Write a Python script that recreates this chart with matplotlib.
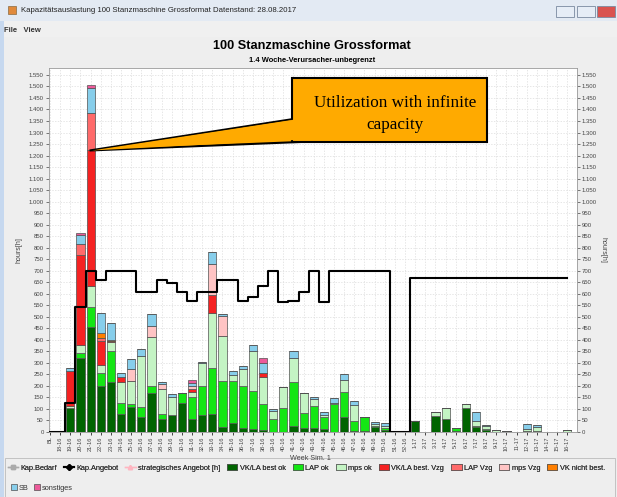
import matplotlib
matplotlib.use("Agg")
import matplotlib.pyplot as plt
import numpy as np
from matplotlib.patches import Rectangle, Polygon, Patch
from matplotlib.lines import Line2D
from matplotlib.ticker import FuncFormatter, MultipleLocator

plt.rcParams['font.family'] = ['Liberation Sans', 'DejaVu Sans']

# categories
weeks = ['BL'] + [f'{w}-16' for w in range(18, 53)] + [f'{w}-17' for w in range(1, 17)]

# stacked series (hours)
vkla_ok = [0, 0, 103, 320, 454, 201, 218, 77, 107, 66, 171, 56, 74, 125, 56, 74, 78, 23, 40, 19,
           12, 9, 2, 2, 26, 19, 19, 14, 2, 67, 5, 5, 22, 8, 0, 0,
           46, 0, 70, 55, 3, 103, 21, 7, 0, 4, 0, 5, 6, 0, 0, 0]
lap_ok = [0, 0, 0, 24, 87, 54, 134, 48, 15, 41, 30, 22, 0, 43, 95, 127, 199, 198, 181, 182,
          166, 113, 54, 104, 192, 62, 95, 50, 120, 108, 43, 61, 5, 10, 0, 0,
          0, 0, 0, 0, 13, 0, 5, 5, 0, 0, 0, 0, 0, 0, 0, 0]
mps_ok = [0, 0, 11, 34, 94, 36, 37, 93, 101, 223, 210, 109, 79, 0, 24, 100, 241, 197, 26, 71,
          175, 118, 37, 88, 105, 87, 29, 10, 5, 51, 69, 0, 8, 8, 0, 0,
          0, 0, 15, 48, 0, 17, 22, 14, 7, 0, 0, 8, 15, 0, 0, 7]
vkla_vzg = [0, 0, 152, 390, 587, 104, 0, 22, 0, 0, 0, 0, 0, 0, 12, 0, 77, 0, 0, 0,
            0, 15, 0, 0, 0, 0, 0, 0, 0, 0, 0, 0, 0, 0, 0, 0,
            0, 0, 0, 0, 0, 0, 0, 0, 0, 0, 0, 0, 0, 0, 0, 0]
lap_vzg = [0, 0, 0, 50, 162, 15, 4, 0, 0, 0, 0, 0, 0, 0, 0, 0, 0, 0, 0, 0,
           0, 0, 0, 0, 0, 0, 0, 0, 0, 0, 0, 0, 0, 0, 0, 0,
           0, 0, 0, 0, 0, 0, 0, 0, 0, 0, 0, 0, 0, 0, 0, 0]
mps_vzg = [0, 0, 0, 0, 0, 0, 0, 0, 49, 0, 49, 21, 0, 0, 13, 0, 135, 86, 0, 0,
           0, 0, 0, 0, 0, 0, 0, 0, 0, 0, 0, 0, 0, 0, 0, 0,
           0, 0, 0, 0, 0, 0, 0, 0, 0, 0, 0, 0, 0, 0, 0, 0]
vk_nicht = [0, 0, 0, 0, 0, 18, 6, 0, 0, 0, 0, 0, 0, 0, 0, 0, 0, 0, 0, 0,
            0, 0, 0, 0, 0, 0, 0, 0, 0, 0, 0, 0, 0, 0, 0, 0,
            0, 0, 0, 0, 0, 0, 0, 0, 0, 0, 0, 0, 0, 0, 0, 0]
sb = [0, 0, 13, 35, 108, 87, 76, 15, 44, 29, 52, 8, 11, 0, 14, 4, 53, 8, 18, 15,
      25, 46, 5, 0, 29, 0, 10, 14, 19, 24, 18, 0, 10, 12, 0, 0,
      0, 0, 0, 0, 0, 0, 37, 4, 0, 0, 0, 20, 8, 0, 0, 0]
sonstiges = [0, 0, 0, 10, 13, 0, 0, 0, 0, 0, 0, 0, 0, 0, 12, 0, 0, 0, 0, 0,
             0, 22, 0, 0, 0, 0, 0, 0, 0, 0, 0, 0, 0, 0, 0, 0,
             0, 0, 0, 0, 0, 0, 0, 0, 0, 0, 0, 0, 0, 0, 0, 0]

# capacity line
kap_angebot = [0, 0, 126, 544, 699, 660, 700, 700, 700, 609, 609, 660, 645, 609, 569, 609, 609,
               660, 660, 569, 587, 634, 700, 563, 569, 609, 700, 563, 700, 700, 700, 700, 700,
               700, 0, 0] + [667] * 16

series = [
    ('VK/LA best ok', vkla_ok, '#006400'),
    ('LAP ok', lap_ok, '#14e614'),
    ('mps ok', mps_ok, '#c4f4c4'),
    ('VK/LA best. Vzg', vkla_vzg, '#f52222'),
    ('LAP Vzg', lap_vzg, '#ff6a6a'),
    ('mps Vzg', mps_vzg, '#ffc4c4'),
    ('VK nicht best.', vk_nicht, '#ff7f00'),
    ('SB', sb, '#87ceeb'),
    ('sonstiges', sonstiges, '#ec5a9a'),
]

fig = plt.figure(figsize=(6.17, 4.97), dpi=100)
fig.patch.set_facecolor('#eeeeee')
W, H = 617, 497


def fx(px):
    return px / W


def fy(py):
    return 1 - py / H


# window chrome
fig.add_artist(Rectangle((0, fy(21)), 1, 21 / H, transform=fig.transFigure,
                         facecolor='#e3eaf3', edgecolor='none'))
fig.add_artist(Rectangle((0, fy(37)), 1, 16 / H, transform=fig.transFigure,
                         facecolor='#f0f0f0', edgecolor='none'))
fig.add_artist(Rectangle((0, 0), fx(4), fy(21), transform=fig.transFigure,
                         facecolor='#c6d8ef', edgecolor='none'))
fig.add_artist(Rectangle((fx(8), fy(14)), fx(8), 8 / H, transform=fig.transFigure,
                         facecolor='#e08a3c', edgecolor='#8a6a40', lw=0.5))
fig.text(fx(21), fy(10), 'Kapazitätsauslastung 100 Stanzmaschine Grossformat Datenstand: 28.08.2017',
         fontsize=5.6, va='center', ha='left', color='#222222')
for bx, col in [(556, '#e6edf6'), (577, '#e6edf6'), (597, '#d9534f')]:
    fig.add_artist(Rectangle((fx(bx), fy(17)), fx(18), 11 / H, transform=fig.transFigure,
                             facecolor=col, edgecolor='#7a8aa0', lw=0.6))
fig.text(fx(4), fy(30), 'File   View', fontsize=5.5, fontweight='bold', va='center', ha='left',
         color='#333333')

fig.text(fx(312), fy(46), '100 Stanzmaschine Grossformat', fontsize=9.2, fontweight='bold',
         ha='center', va='center')
fig.text(fx(312), fy(60), '1.4 Woche-Verursacher-unbegrenzt', fontsize=5.4, fontweight='bold',
         ha='center', va='center')

ax = fig.add_axes([fx(48.5), 1 - 432 / H, fx(528.5), 364 / H])
ax.set_facecolor('white')
x = np.arange(len(weeks))
bottom = np.zeros(len(weeks))
for name, vals, col in series:
    vals = np.array(vals, dtype=float)
    ax.bar(x, vals, 0.8, bottom=bottom, color=col, edgecolor='#505050', linewidth=0.5, zorder=3)
    bottom += vals

ax.plot(x, kap_angebot, color='black', lw=1.5, drawstyle='steps-mid', zorder=4)

ax.set_xlim(-0.15, 51.95)
ax.set_ylim(0, 1580)
ax.yaxis.set_major_locator(MultipleLocator(50))
ax.yaxis.set_major_formatter(FuncFormatter(lambda v, p: f'{int(v):,}'.replace(',', '.')))
ax.set_xticks(x)
ax.set_xticklabels(weeks, rotation=90, fontsize=4.1, color='#444444')
ax.tick_params(axis='y', labelsize=4.3, colors='#444444', length=2, width=0.5,
               right=True, labelright=True, pad=1.5)
ax.tick_params(axis='x', length=2, width=0.5, pad=1.2)
ax.grid(True, color='#dcdcdc', lw=0.5, ls=(0, (2, 2)), zorder=0)
for s in ax.spines.values():
    s.set_color('#999999')
    s.set_linewidth(0.6)

fig.text(fx(19), fy(250), 'hours[h]', rotation=90, fontsize=5, ha='center', va='center',
         color='#444444')
fig.text(fx(603), fy(250), 'hours[h]', rotation=270, fontsize=5, ha='center', va='center',
         color='#444444')
fig.text(fx(310), fy(458.5), 'Week Sim. 1', fontsize=5.2, ha='center', va='center', color='#444444')

# callout
tip = ax.transData.transform((3.9, 1222))
tip_f = fig.transFigure.inverted().transform(tip)
wedge = Polygon([tip_f, (fx(300), fy(118)), (fx(300), fy(142))], closed=True,
                transform=fig.transFigure, facecolor='#ffaa00', edgecolor='black', lw=1.5,
                zorder=10)
fig.add_artist(wedge)
box = Rectangle((fx(292), fy(142)), fx(195), 64 / H, transform=fig.transFigure,
                facecolor='#ffaa00', edgecolor='black', lw=1.5, zorder=11)
fig.add_artist(box)
fig.add_artist(Polygon([(tip_f[0] + 0.004, tip_f[1]), (fx(295), fy(119.5)), (fx(295), fy(140))],
                       closed=True, transform=fig.transFigure, facecolor='#ffaa00',
                       edgecolor='none', zorder=12))
fig.text(fx(395), fy(114), 'Utilization with infinite\ncapacity', family='Liberation Serif',
         fontsize=12.3, ha='center', va='center', linespacing=1.45, zorder=13)

# legend
fig.add_artist(Rectangle((fx(5), fy(497)), fx(610), 39 / H, transform=fig.transFigure,
                         facecolor='#eeeeee', edgecolor='#bbbbbb', lw=0.6))
line_handles = [
    Line2D([], [], color='#aaaaaa', marker='s', markersize=3, lw=1),
    Line2D([], [], color='black', marker='D', markersize=3, lw=1.5),
    Line2D([], [], color='#ffb6c1', marker='^', markersize=3, lw=1),
]
line_labels = ['Kap.Bedarf', 'Kap.Angebot', 'strategisches Angebot [h]']
bar_handles = [Patch(facecolor=c, edgecolor='#505050', lw=0.5) for _, _, c in series]
bar_labels = [n for n, _, _ in series]
leg1 = fig.legend(line_handles + bar_handles[:7], line_labels + bar_labels[:7], ncol=10,
                  loc='center left', bbox_to_anchor=(fx(4), fy(468)), frameon=False,
                  fontsize=5.3, handlelength=1.4, handleheight=0.9, handletextpad=0.3,
                  columnspacing=0.95, borderpad=0, labelcolor='#333333')
fig.add_artist(leg1)
fig.legend(bar_handles[7:], bar_labels[7:], ncol=2, loc='center left',
           bbox_to_anchor=(fx(7), fy(488)), frameon=False, fontsize=5.3,
           handlelength=0.8, handleheight=0.9, handletextpad=0.3, columnspacing=0.7,
           borderpad=0, labelcolor='#333333')

fig.savefig('out.png', dpi=100, facecolor=fig.get_facecolor())
